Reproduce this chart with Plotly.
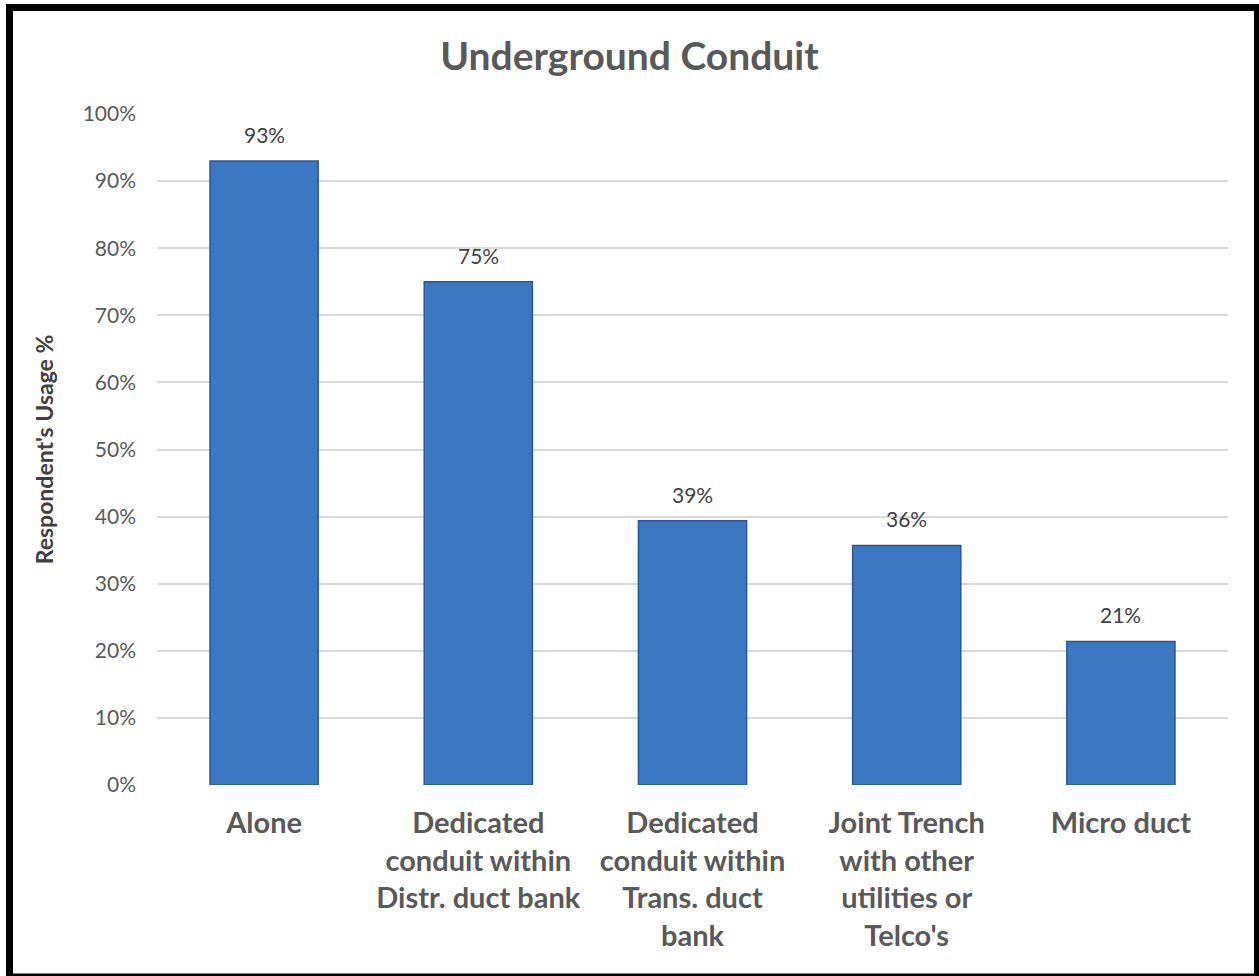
import plotly.graph_objects as go

categories = [
    "Alone",
    "Dedicated<br>conduit within<br>Distr. duct bank",
    "Dedicated<br>conduit within<br>Trans. duct<br>bank",
    "Joint Trench<br>with other<br>utilities or<br>Telco's",
    "Micro duct",
]
usage_pct = [93, 75, 39.4, 35.7, 21.4]
value_labels = ["93%", "75%", "39%", "36%", "21%"]
y_ticks = [0, 10, 20, 30, 40, 50, 60, 70, 80, 90, 100]
y_tick_labels = [f"{v}%" for v in y_ticks]

W, H = 1259, 976
ML, MR, MT, MB = 157, 31, 114, 191
PW, PH = W - ML - MR, H - MT - MB

FONT = "Lato, Carlito, 'Open Sans', sans-serif"

fig = go.Figure()
fig.add_trace(go.Bar(
    x=categories,
    y=usage_pct,
    marker=dict(color="#3C77C2", line=dict(color="#2C5794", width=1.5)),
    width=0.505,
    hoverinfo="x+y",
))

for cat, v, lab in zip(categories, usage_pct, value_labels):
    fig.add_annotation(x=cat, y=v, text=lab, showarrow=False,
                       yanchor="bottom", yshift=12,
                       font=dict(family=FONT, size=21, color="#404040"))

# border around the whole chart (pixel -> paper coordinates)
def px_x(p):
    return (p - ML) / PW

def px_y(p):
    return 1 - (p - MT) / PH

fig.add_shape(type="rect", xref="paper", yref="paper",
              x0=px_x(9.5), x1=px_x(1257.5), y0=px_y(977), y1=px_y(7.5),
              line=dict(color="black", width=7), fillcolor="rgba(0,0,0,0)",
              layer="above")

fig.update_layout(
    width=W, height=H,
    margin=dict(l=ML, r=MR, t=MT, b=MB, autoexpand=False),
    paper_bgcolor="white", plot_bgcolor="white",
    showlegend=False,
    title=dict(text="<b>Underground Conduit</b>", x=0.5, xref="container", xanchor="center",
               y=1 - 56 / H, yref="container", yanchor="middle",
               font=dict(family=FONT, size=39, color="#595959")),
    xaxis=dict(
        showgrid=False, showline=False, zeroline=False, ticks="",
        tickfont=dict(family=FONT, size=29, color="#595959", weight="bold"),
        ticklabelstandoff=18,
    ),
    yaxis=dict(
        range=[0, 100], tickvals=y_ticks, ticktext=y_tick_labels,
        showgrid=True, gridcolor="#D9D9D9", gridwidth=1.5,
        zeroline=False, showline=False, ticks="",
        tickfont=dict(family=FONT, size=21, color="#595959"),
        ticklabelstandoff=20,
        title=dict(text="<b>Respondent's Usage %</b>", standoff=22,
                   font=dict(family=FONT, size=23, color="#404040")),
    ),
    bargap=0.495,
)

fig.write_html("out.html")
